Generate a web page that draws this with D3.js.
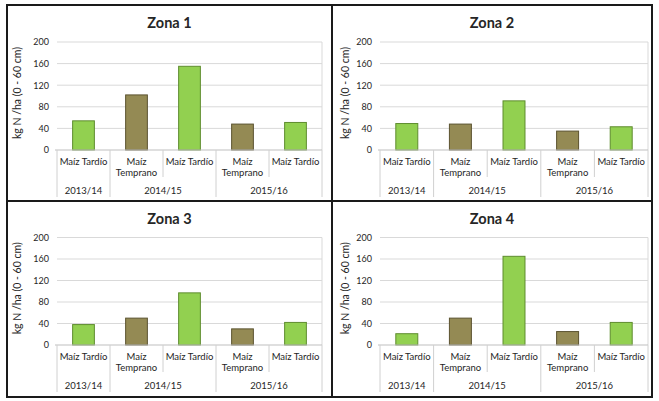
<!DOCTYPE html>
<html>
<head>
    <style>
        body { margin: 0; background: #fff; }
        text { font-family: Lato, "Open Sans", sans-serif; fill: #262626; }
        .title { font-weight: bold; font-size: 14.5px; }
        .tick text { font-size: 9px; }
        .cat { font-size: 9.5px; text-anchor: middle; }
        .ylab { font-size: 10.5px; text-anchor: middle; }
    </style>
    <script src="https://d3js.org/d3.v7.min.js"></script>
</head>
<body>
<svg width="659" height="401"></svg>
<script>
    // categories of the two-level x axis
    let cropLabels = [["Maíz Tardío"], ["Maíz", "Temprano"], ["Maíz Tardío"], ["Maíz", "Temprano"], ["Maíz Tardío"]];
    let cropType = ["tardio", "temprano", "tardio", "temprano", "tardio"];
    let seasons = ["2013/14", "2014/15", "2015/16"];
    let seasonSize = [1, 2, 2];
    let yTicks = [0, 40, 80, 120, 160, 200];

    // kg N /ha (0 - 60 cm) per zone
    let zonas = ["Zona 1", "Zona 2", "Zona 3", "Zona 4"];
    let zona1 = [54, 102, 155, 48, 51];
    let zona2 = [49, 48, 91, 35, 43];
    let zona3 = [38, 50, 97, 30, 42];
    let zona4 = [21, 50, 165, 25, 42];
    let values = [zona1, zona2, zona3, zona4];

    let fill = { tardio: "#92D050", temprano: "#948A54" };
    let edge = { tardio: "#5E8C2E", temprano: "#5B5330" };

    let svg = d3.select("svg");

    // frame of the 2x2 grid
    let colX = [7, 332, 652];
    let rowY = [5, 201, 397];
    // plot area per column / row
    let plotX = [[57, 322], [380, 648]];
    let plotY = [[42, 150], [237.5, 345]];

    zonas.forEach(function (name, k) {
        let c = k % 2, r = Math.floor(k / 2);
        let g = svg.append("g");

        let y = d3.scaleLinear().domain([0, 200]).range([plotY[r][1], plotY[r][0]]);
        let slot = d3.scaleBand().domain(d3.range(cropType.length)).range(plotX[c]);
        let xb = d3.scaleBand().domain(d3.range(cropType.length)).range(plotX[c])
            .paddingInner(0.59).paddingOuter(0.295);

        // gridlines
        g.append("g")
            .selectAll("line")
            .data(yTicks.slice(1))
            .join("line")
            .attr("x1", plotX[c][0]).attr("x2", plotX[c][1])
            .attr("y1", d => y(d)).attr("y2", d => y(d))
            .attr("stroke", "#d9d9d9").attr("stroke-width", 1);
        g.append("line")
            .attr("x1", plotX[c][1]).attr("x2", plotX[c][1])
            .attr("y1", y(200)).attr("y2", y(0))
            .attr("stroke", "#d9d9d9");

        // y axis labels
        let ax = g.append("g")
            .attr("transform", "translate(" + plotX[c][0] + ",0)")
            .call(d3.axisLeft(y).tickValues(yTicks).tickSize(0).tickPadding(8));
        ax.select(".domain").remove();

        // bars
        g.append("g")
            .selectAll("rect")
            .data(values[k])
            .join("rect")
            .attr("x", (d, i) => xb(i))
            .attr("width", xb.bandwidth())
            .attr("y", d => y(d))
            .attr("height", d => y(0) - y(d))
            .attr("fill", (d, i) => fill[cropType[i]])
            .attr("stroke", (d, i) => edge[cropType[i]])
            .attr("stroke-width", 1);

        // category axis
        let base = y(0);
        let lvl1 = base + 27, lvl2 = base + 47;
        g.append("line")
            .attr("x1", plotX[c][0] - 2).attr("x2", plotX[c][1])
            .attr("y1", base).attr("y2", base)
            .attr("stroke", "#bfbfbf");

        let bounds = [0];
        seasonSize.forEach(s => bounds.push(bounds[bounds.length - 1] + s));
        let edges = d3.range(cropType.length + 1);
        g.append("g")
            .selectAll("line")
            .data(edges)
            .join("line")
            .attr("x1", i => i < cropType.length ? slot(i) : plotX[c][1])
            .attr("x2", i => i < cropType.length ? slot(i) : plotX[c][1])
            .attr("y1", base)
            .attr("y2", i => bounds.includes(i) ? lvl2 : lvl1)
            .attr("stroke", "#d0d0d0");

        g.append("g")
            .selectAll("text")
            .data(cropLabels)
            .join("text")
            .attr("class", "cat")
            .attr("x", (d, i) => slot(i) + slot.bandwidth() / 2)
            .attr("y", base + 15)
            .selectAll("tspan")
            .data(d => d)
            .join("tspan")
            .attr("x", function () { return d3.select(this.parentNode).attr("x"); })
            .attr("dy", (d, j) => j === 0 ? 0 : 11)
            .text(d => d);

        g.append("g")
            .selectAll("text")
            .data(seasons)
            .join("text")
            .attr("class", "cat")
            .attr("x", (d, i) => (slot(bounds[i]) + (bounds[i + 1] < cropType.length ? slot(bounds[i + 1]) : plotX[c][1])) / 2)
            .attr("y", base + 44)
            .text(d => d);

        // title
        g.append("text")
            .attr("class", "title")
            .attr("x", (colX[c] + colX[c + 1]) / 2)
            .attr("y", rowY[r] + 23)
            .attr("text-anchor", "middle")
            .text(name);

        // y axis title
        let lx = c === 0 ? 21 : 349;
        g.append("text")
            .attr("class", "ylab")
            .attr("transform", "translate(" + lx + "," + (y(100) - 3) + ") rotate(-90)")
            .text("kg N /ha (0 - 60 cm)");
    });

    // frame
    svg.append("rect")
        .attr("x", colX[0]).attr("y", rowY[0])
        .attr("width", colX[2] - colX[0]).attr("height", rowY[2] - rowY[0])
        .attr("fill", "none").attr("stroke", "#1a1a1a").attr("stroke-width", 2);
    svg.append("line")
        .attr("x1", colX[1]).attr("x2", colX[1]).attr("y1", rowY[0]).attr("y2", rowY[2])
        .attr("stroke", "#1a1a1a").attr("stroke-width", 2);
    svg.append("line")
        .attr("x1", colX[0]).attr("x2", colX[2]).attr("y1", rowY[1]).attr("y2", rowY[1])
        .attr("stroke", "#1a1a1a").attr("stroke-width", 2);
</script>
</body>
</html>
